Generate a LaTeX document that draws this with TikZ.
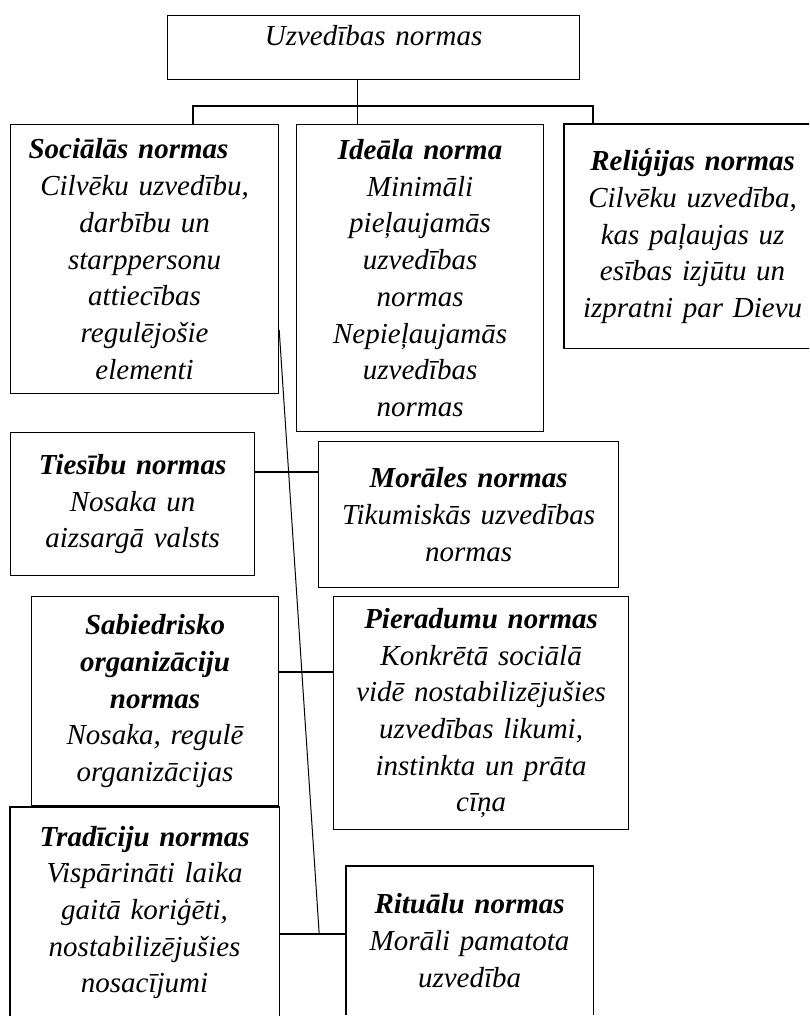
\documentclass[tikz,border=0pt]{standalone}
\usepackage{fontspec}
\setmainfont{Liberation Serif}
\usetikzlibrary{calc}
\begin{document}
\begin{tikzpicture}
[x=1pt, y=-1pt, line width=1.2pt,
 box/.style={draw, anchor=north west, align=center, inner sep=0pt,
   font=\fontsize{29}{36.7}\selectfont\itshape},
 cutbox/.style={box, draw=none}]
\useasboundingbox (0,0) rectangle (809,1016);
\clip (0,0) rectangle (809,1016);
\node (top) at (167,15) [box, text width=412pt, text height=30pt, text depth=34pt] {Uzvedības normas};

\node (socialas) at (10,124) [box, text width=268pt, minimum height=269pt]
  {\makebox[232pt][l]{\textbf{Sociālās normas}}\\ Cilvēku uzvedību,\\ darbību un\\ starppersonu\\ attiecības\\ regulējošie\\ elementi};
\node (ideala) at (296,124) [box, text width=247pt, minimum height=307pt]
  {\textbf{Ideāla norma}\\ Minimāli\\ pieļaujamās\\ uzvedības\\ normas\\ Nepieļaujamās\\ uzvedības\\ normas};
\node (religijas) at (564,124) [cutbox, text width=256pt, minimum height=223pt]
  {\textbf{Reliģijas normas}\\ Cilvēku uzvedība,\\ kas paļaujas uz\\ esības izjūtu un\\ izpratni par Dievu};
\node (tiesibu) at (10,432) [box, text width=244pt, minimum height=143pt]
  {\textbf{Tiesību normas}\\ Nosaka un\\ aizsargā valsts};
\node (morales) at (318,441) [box, text width=300pt, minimum height=146pt]
  {\textbf{Morāles normas}\\ Tikumiskās uzvedības\\ normas};
\node (sabiedr) at (31,596) [box, text width=247pt, minimum height=209pt]
  {\textbf{Sabiedrisko}\\ \textbf{organizāciju}\\ \textbf{normas}\\ Nosaka, regulē\\ organizācijas};
\node (pieradumu) at (333,596) [box, text width=295pt, minimum height=233pt]
  {\textbf{Pieradumu normas}\\ Konkrētā sociālā\\ vidē nostabilizējušies\\ uzvedības likumi,\\ instinkta un prāta\\ cīņa};
\node (tradiciju) at (10,807) [cutbox, text width=268pt, minimum height=210pt]
  {\textbf{Tradīciju normas}\\ Vispārināti laika\\ gaitā koriģēti,\\ nostabilizējušies\\ nosacījumi};
\node (ritualu) at (346,866) [cutbox, text width=246pt, minimum height=148pt]
  {\textbf{Rituālu normas}\\ Morāli pamatota\\ uzvedība};

% boxes cut by the page edge
\draw (religijas.north east) -- (religijas.north west) -- (religijas.south west) -- (religijas.south east);
\draw (tradiciju.south west) -- (tradiciju.north west) -- (tradiciju.north east) -- (tradiciju.south east);
\draw (ritualu.south west) -- (ritualu.north west) -- (ritualu.north east) -- (ritualu.south east);

% tree from the top box
\coordinate (stem) at ([xshift=-16pt]top.south);
\draw (stem) -- (stem |- ideala.north);
\coordinate (busL) at (193,106);
\coordinate (busR) at (593,106);
\draw (busL |- socialas.north) -- (busL) -- (busR) -- (busR |- religijas.north);

% side links
\coordinate (tm) at ([yshift=-40pt]tiesibu.north east);
\draw (tm) -- (tm -| morales.west);
\coordinate (sp) at ([yshift=-76pt]sabiedr.north east);
\draw (sp) -- (sp -| pieradumu.west);
\coordinate (tr) at ([yshift=-127pt]tradiciju.north east);
\draw (tr) -- (tr -| ritualu.west);
\coordinate (diagtop) at ([yshift=-206pt]socialas.north east);
\coordinate (diagend) at ([xshift=40pt]tr);
\draw [line width=1pt] (diagtop) -- (diagend);
\end{tikzpicture}
\end{document}
